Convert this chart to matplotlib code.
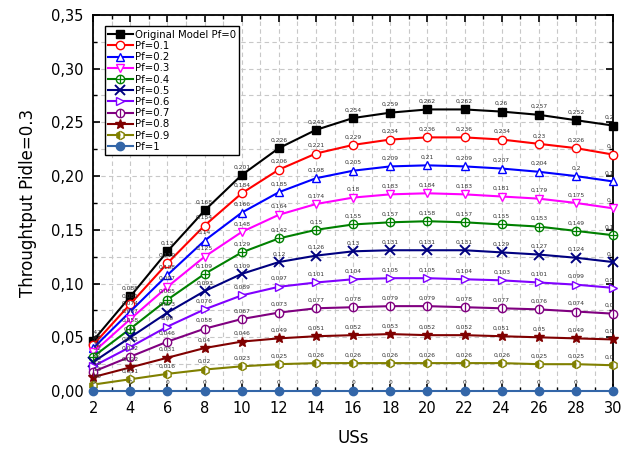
import matplotlib
matplotlib.use('Agg')
import matplotlib.pyplot as plt
from matplotlib.ticker import MultipleLocator, FuncFormatter
from matplotlib.legend_handler import HandlerTuple

users = [2, 4, 6, 8, 10, 12, 14, 16, 18, 20, 22, 24, 26, 28, 30]

original = [0.047, 0.088, 0.13, 0.168, 0.201, 0.226, 0.243, 0.254, 0.259, 0.262, 0.262, 0.26, 0.257, 0.252, 0.247]
pf01 = [0.043, 0.081, 0.119, 0.154, 0.184, 0.206, 0.221, 0.229, 0.234, 0.236, 0.236, 0.234, 0.23, 0.226, 0.22]
pf02 = [0.04, 0.074, 0.108, 0.14, 0.166, 0.185, 0.198, 0.205, 0.209, 0.21, 0.209, 0.207, 0.204, 0.2, 0.195]
pf03 = [0.036, 0.067, 0.097, 0.125, 0.148, 0.164, 0.174, 0.18, 0.183, 0.184, 0.183, 0.181, 0.179, 0.175, 0.17]
pf04 = [0.032, 0.058, 0.085, 0.109, 0.129, 0.142, 0.15, 0.155, 0.157, 0.158, 0.157, 0.155, 0.153, 0.149, 0.145]
pf05 = [0.027, 0.05, 0.073, 0.093, 0.109, 0.12, 0.126, 0.13, 0.131, 0.131, 0.131, 0.129, 0.127, 0.124, 0.12]
pf06 = [0.023, 0.041, 0.06, 0.076, 0.089, 0.097, 0.101, 0.104, 0.105, 0.105, 0.104, 0.103, 0.101, 0.099, 0.096]
pf07 = [0.018, 0.032, 0.046, 0.058, 0.067, 0.073, 0.077, 0.078, 0.079, 0.079, 0.078, 0.077, 0.076, 0.074, 0.072]
pf08 = [0.013, 0.022, 0.031, 0.04, 0.046, 0.049, 0.051, 0.052, 0.053, 0.052, 0.052, 0.051, 0.05, 0.049, 0.048]
pf09 = [0.006, 0.011, 0.016, 0.02, 0.023, 0.025, 0.026, 0.026, 0.026, 0.026, 0.026, 0.026, 0.025, 0.025, 0.024]
pf1 = [0] * 15

labels = ['Original Model Pf=0', 'Pf=0.1', 'Pf=0.2', 'Pf=0.3', 'Pf=0.4', 'Pf=0.5',
          'Pf=0.6', 'Pf=0.7', 'Pf=0.8', 'Pf=0.9', 'Pf=1']
series = [original, pf01, pf02, pf03, pf04, pf05, pf06, pf07, pf08, pf09, pf1]
colors = ['#000000', '#ff0000', '#0000ff', '#ff00ff', '#008000', '#000080',
          '#8000ff', '#800080', '#800000', '#808000', '#3366a8']

# marker, facecolor ('c' = line colour), overlay marker
styles = [
  ('s', 'c', None),
  ('o', 'w', None),
  ('^', 'w', None),
  ('v', 'w', None),
  ('o', 'w', '+'),
  ('x', 'c', None),
  ('>', 'w', None),
  ('o', 'w', '|'),
  ('*', 'c', None),
  ('h', 'half', None),
  ('o', 'c', None),
]


def comma(v, pos=None):
  return f'{v:.2f}'.replace('.', ',')


def val_label(v):
  if v == 0:
    return '0'
  return f'{v:g}'.replace('.', ',')


fig = plt.figure(figsize=(6.34, 4.5), dpi=100)
ax = fig.add_axes([0.147, 0.131, 0.82, 0.836])

handles = []
for y, lab, c, (m, fc, over) in zip(series, labels, colors, styles):
  kw = dict(color=c, lw=1.5, marker=m, ms=6, mew=1.0, mec=c, zorder=3, clip_on=False)
  if fc == 'w':
    kw['mfc'] = 'white'
  elif fc == 'half':
    kw['mfc'] = c
    kw['mfcalt'] = 'white'
    kw['fillstyle'] = 'left'
  else:
    kw['mfc'] = c
  if m == 'x':
    kw['ms'] = 6.5
    kw['mew'] = 1.4
  if m == '*':
    kw['ms'] = 7.5
  if m == 's':
    kw['ms'] = 5.5
  line, = ax.plot(users, y, **kw)
  if over:
    ov, = ax.plot(users, y, ls='none', marker=over, ms=6, mew=0.9, color=c,
                  zorder=4, clip_on=False)
    handles.append((line, ov))
  else:
    handles.append(line)
  for xv, yv in zip(users, y):
    ax.annotate(val_label(yv), (xv, yv), xytext=(0, 4), textcoords='offset points',
                ha='center', va='bottom', fontsize=4.3, color='#333333',
                annotation_clip=True, clip_on=True)

ax.set_xlim(2, 30)
ax.set_ylim(0, 0.35)
ax.xaxis.set_major_locator(MultipleLocator(2))
ax.xaxis.set_minor_locator(MultipleLocator(1))
ax.yaxis.set_major_locator(MultipleLocator(0.05))
ax.yaxis.set_minor_locator(MultipleLocator(0.025))
ax.yaxis.set_major_formatter(FuncFormatter(comma))
ax.grid(True, which='both', ls=(0, (4, 3)), color='#c8c8c8', lw=0.8)
ax.set_axisbelow(True)
ax.tick_params(which='both', direction='in', top=True, right=True, labelsize=10.5)
ax.tick_params(which='major', length=5, width=1.2, pad=7)
ax.tick_params(which='minor', length=3, width=1)
for s in ax.spines.values():
  s.set_linewidth(1.3)

ax.set_xlabel('USs', fontsize=12)
ax.xaxis.set_label_coords(0.5, -0.1)
ax.set_ylabel('Throughtput Pidle=0.3', fontsize=12, labelpad=10)

leg = ax.legend(handles, labels, loc='upper left', bbox_to_anchor=(0.022, 0.97),
                fontsize=7.3, frameon=True, fancybox=False, edgecolor='black',
                handlelength=2.4, handletextpad=0.2, labelspacing=0.12,
                borderpad=0.35, borderaxespad=0,
                handler_map={tuple: HandlerTuple(ndivide=1)})
leg.get_frame().set_linewidth(1.0)
leg.get_frame().set_alpha(1)
leg.set_zorder(10)

fig.savefig('out.png', dpi=100)
